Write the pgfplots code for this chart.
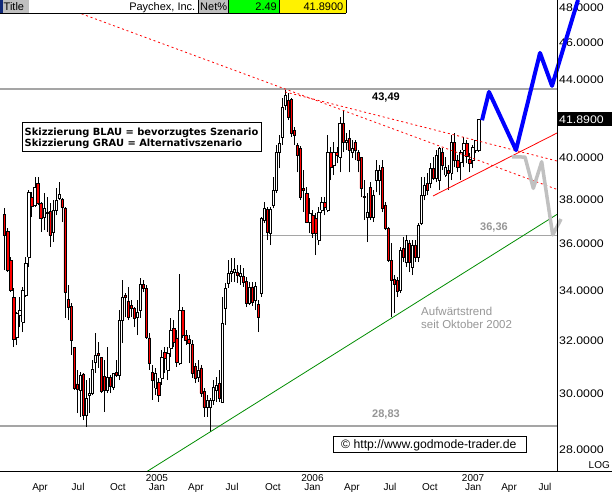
\documentclass[border=0pt]{standalone}
\usepackage{pgfplots}
\usepackage{pgfplotstable}
\pgfplotsset{compat=1.18}
\usepackage{fontspec}
\setmainfont{Liberation Sans}
\newfontfamily\tickfont{Liberation Sans}[FakeStretch=1.12]
\newfontfamily\legfont{DejaVu Sans}

\definecolor{hline}{RGB}{165,165,165}
\definecolor{alt}{RGB}{192,192,192}
\definecolor{note}{RGB}{150,150,150}
\definecolor{trend}{RGB}{0,140,0}
\definecolor{navy}{RGB}{16,40,120}
\definecolor{hdrgray}{RGB}{192,192,192}

% weekly candles: week index, open, high, low, close
\pgfplotstableread{
k O H L C
0 37.33 37.60 34.87 36.39
1 36.57 36.70 34.78 34.87
2 35.29 35.42 33.94 34.03
3 33.74 34.11 31.74 32.06
4 32.13 33.13 31.82 33.09
5 33.01 33.74 32.53 33.21
6 32.73 34.16 32.33 34.03
7 33.82 35.42 33.74 35.16
8 35.42 38.44 34.99 38.34
9 38.11 38.34 37.19 37.69
10 37.74 39.05 37.65 38.58
11 38.77 39.05 37.74 37.83
12 37.83 37.88 36.52 37.15
13 37.19 38.30 36.61 37.60
14 37.37 38.11 36.52 37.42
15 37.46 37.83 35.86 36.39
16 36.52 37.97 36.08 37.51
17 37.51 38.53 37.28 37.97
18 38.06 38.81 37.97 38.25
19 38.02 38.06 36.97 37.65
20 37.60 37.65 32.89 33.94
21 33.66 34.24 32.81 33.33
22 33.37 33.50 31.44 32.02
23 31.74 31.74 30.12 30.20
24 30.35 30.87 29.29 30.16
25 30.12 30.79 29.15 30.68
26 30.72 30.76 29.04 29.22
27 29.22 30.49 28.80 29.83
28 29.94 30.57 29.29 30.01
29 30.01 31.25 29.94 30.91
30 31.17 32.29 30.76 31.44
31 31.51 31.94 30.95 31.44
32 31.36 31.36 30.01 30.09
33 30.64 31.25 29.33 30.12
34 30.12 31.74 30.01 30.60
35 30.60 30.68 30.01 30.27
36 30.23 30.76 30.12 30.76
37 30.79 31.25 30.60 30.68
38 30.68 33.21 30.49 32.81
39 32.81 34.44 31.90 33.74
40 33.82 33.90 32.93 33.74
41 33.58 34.16 32.81 32.93
42 33.41 33.62 32.93 33.29
43 33.29 33.33 32.53 32.89
44 32.93 33.62 32.21 33.13
45 33.21 34.53 32.89 34.28
46 34.28 34.44 33.94 34.11
47 34.11 34.24 32.06 32.13
48 32.10 32.29 30.87 31.13
49 30.79 31.06 29.76 30.49
50 30.20 30.95 29.94 30.76
51 30.42 30.57 29.69 29.94
52 30.57 31.63 30.31 31.36
53 31.55 31.74 30.76 31.32
54 30.87 31.74 30.49 31.51
55 31.70 32.89 31.36 32.41
56 32.49 32.81 31.74 31.94
57 32.10 32.41 30.99 31.17
58 31.13 34.70 31.06 33.21
59 33.21 33.33 32.10 32.21
60 32.21 32.41 31.82 32.02
61 32.06 32.21 31.13 31.90
62 31.86 32.02 30.57 30.76
63 30.99 31.13 30.38 30.57
64 30.60 31.25 30.42 30.87
65 30.95 31.06 29.87 30.01
66 30.09 30.20 29.15 29.51
67 29.51 29.94 29.15 29.76
68 29.51 29.83 28.62 29.76
69 29.76 30.49 29.58 30.23
70 30.12 30.60 29.69 30.31
71 30.38 30.87 29.69 29.83
72 29.69 33.74 29.65 32.69
73 33.29 34.32 32.61 34.11
74 34.32 35.29 34.11 34.74
75 34.74 35.38 34.36 34.83
76 34.78 35.38 34.36 34.91
77 34.78 35.08 34.32 34.66
78 34.61 35.08 34.24 34.74
79 34.61 34.95 34.16 34.36
80 34.40 34.57 33.33 33.50
81 33.50 34.36 33.41 34.16
82 34.16 34.36 33.37 33.54
83 33.62 34.36 33.21 34.20
84 33.45 33.62 32.33 32.93
85 33.90 37.19 33.74 37.15
86 37.06 37.88 36.92 37.60
87 37.55 37.65 36.17 36.52
88 36.48 37.65 35.95 37.55
89 37.74 39.05 37.60 38.44
90 38.44 40.61 38.30 40.26
91 40.26 41.10 39.49 40.70
92 41.00 42.99 40.61 42.53
93 42.63 43.42 42.37 43.16
94 42.89 43.26 41.86 42.02
95 42.94 42.99 41.00 41.20
96 41.35 41.50 40.61 41.10
97 40.61 40.70 39.29 40.11
98 40.46 40.56 37.97 38.11
99 38.53 39.39 37.42 38.44
100 38.30 38.58 36.92 36.97
101 36.97 38.06 36.48 37.37
102 37.28 37.51 36.26 36.48
103 37.15 37.37 35.51 36.48
104 36.17 37.65 35.95 37.42
105 37.51 38.11 37.37 37.88
106 37.88 38.11 37.28 37.65
107 37.51 41.10 37.42 40.26
108 40.26 40.51 38.91 39.53
109 39.63 40.75 39.15 40.26
110 40.26 40.51 39.72 40.11
111 40.01 42.02 39.29 41.71
112 41.71 42.37 40.26 40.75
113 40.75 41.20 40.36 40.85
114 40.95 41.35 39.29 40.36
115 40.26 40.85 39.97 40.46
116 40.75 40.85 39.87 40.36
117 40.26 40.36 39.29 39.87
118 40.01 40.01 38.11 38.53
119 38.16 38.91 37.06 38.11
120 37.19 38.30 36.08 37.42
121 38.58 38.81 37.06 37.19
122 37.19 38.44 36.97 38.20
123 38.91 39.87 38.34 39.39
124 38.91 39.63 38.20 39.39
125 39.53 39.87 37.42 37.60
126 37.74 37.88 36.61 36.70
127 36.70 36.74 35.21 35.29
128 35.29 36.04 32.93 34.44
129 34.49 34.66 33.09 34.28
130 34.44 34.57 33.74 33.98
131 34.03 35.86 33.90 35.73
132 35.82 36.30 35.21 35.42
133 35.21 36.39 34.99 36.17
134 36.04 36.17 34.78 35.21
135 34.99 36.17 34.66 35.95
136 35.95 36.17 35.21 35.42
137 35.42 36.92 35.21 36.83
138 36.92 39.05 36.83 38.20
139 38.20 39.05 37.97 38.67
140 38.77 39.24 38.20 38.44
141 38.77 39.72 38.53 39.49
142 39.49 40.01 38.91 39.00
143 39.00 40.36 38.81 40.11
144 38.91 40.51 38.44 40.46
145 40.26 40.46 39.39 39.63
146 39.15 40.01 39.05 39.53
147 39.39 39.63 38.44 39.24
148 39.24 41.10 38.91 40.75
149 40.75 41.20 39.53 39.87
150 39.87 40.11 39.29 39.53
151 39.77 40.36 38.91 40.26
152 40.36 41.00 39.53 40.70
153 40.70 40.85 39.72 40.06
154 39.92 40.21 39.29 39.72
155 39.87 40.61 39.49 40.51
156 40.36 40.85 40.21 40.85
157 40.36 41.91 40.26 41.89
}\candles

\begin{document}
\begin{tikzpicture}[x=1bp,y=-1bp]
\path[use as bounding box] (0,0) rectangle (612,492);
\begin{axis}[
  at={(0bp,-471.5bp)}, anchor=south west,
  scale only axis, width=557bp, height=471.5bp,
  xmin=-1.556, xmax=182.88,
  ymode=log, ymin=27.275, ymax=48.47,
  clip=false,
  axis x line*=bottom, axis y line*=right,
  axis line style={draw=none},
  major tick length=0pt,
  xtick={11.7,24.3,37.5,50.4,63.3,75.3,88.8,101.9,115.0,127.6,140.8,155.1,167.0,178.9},
  xticklabels={Apr,Jul,Oct,Jan,Apr,Jul,Oct,Jan,Apr,Jul,Oct,Jan,Apr,Jul},
  xticklabel style={font=\fontsize{10bp}{12bp}\selectfont, anchor=base, inner sep=0pt, yshift=-19bp},
  extra x ticks={50.4,101.9,155.1},
  extra x tick labels={2005,2006,2007},
  extra x tick style={xticklabel style={yshift=9bp}},
  ytick={28,30,32,34,36,38,40,44,46,48},
  yticklabels={28.0000,30.0000,32.0000,34.0000,36.0000,38.0000,40.0000,44.0000,46.0000,48.0000},
  yticklabel style={font=\tickfont\fontsize{11bp}{13bp}\selectfont, anchor=west, inner sep=0pt, xshift=2bp},
]
% support / resistance levels
\addplot[hline, line width=1.5bp, forget plot] coordinates {(-1.556,43.49) (182.88,43.49)};
\addplot[hline, line width=1.5bp, forget plot] coordinates {(85.5,36.36) (182.88,36.36)};
\addplot[hline, line width=1.5bp, forget plot] coordinates {(-1.556,28.83) (182.88,28.83)};

% candles
\pgfplotsinvokeforeach{0,...,157}{
  \pgfplotstablegetelem{#1}{k}\of\candles \let\cndK\pgfplotsretval
  \pgfplotstablegetelem{#1}{O}\of\candles \let\cndO\pgfplotsretval
  \pgfplotstablegetelem{#1}{H}\of\candles \let\cndH\pgfplotsretval
  \pgfplotstablegetelem{#1}{L}\of\candles \let\cndL\pgfplotsretval
  \pgfplotstablegetelem{#1}{C}\of\candles \let\cndC\pgfplotsretval
  \pgfmathsetmacro\cndXa{\cndK-0.37}
  \pgfmathsetmacro\cndXb{\cndK+0.37}
  \edef\candlecmd{%
    \noexpand\addplot[black, line width=0.8bp, forget plot]
      coordinates {(\cndK,\cndL) (\cndK,\cndH)};
    \noexpand\addplot[draw=black, line width=0.65bp, forget plot,
      fill=\ifdim\cndC pt<\cndO pt red\else white\fi]
      coordinates {(\cndXa,\cndO) (\cndXb,\cndO) (\cndXb,\cndC) (\cndXa,\cndC) (\cndXa,\cndO)};
  }%
  \candlecmd
}

% trend lines
\addplot[trend, line width=0.8bp, forget plot] coordinates {(47.12,27.275) (182.88,37.32)};
\addplot[red, line width=0.8bp, forget plot] coordinates {(141.83,38.17) (182.88,41.21)};
\addplot[red, line width=0.8bp, dash pattern=on 2bp off 2.8bp, forget plot] coordinates {(92.81,43.33) (182.88,39.83)};
\addplot[red, line width=0.8bp, dash pattern=on 2bp off 2.8bp, forget plot] coordinates {(20.96,47.95) (182.88,38.48)};

% scenarios
\addplot[alt, line width=3.5bp, line join=round, forget plot] coordinates {
  (167.98,40.03) (172.28,40.02) (175.03,38.53) (177.81,39.80) (181.46,36.40) (184.2,37.11)};
\addplot[blue, line width=4bp, line join=round, forget plot] coordinates {
  (158.05,41.86) (160.36,43.33) (169.3,40.36) (177.25,45.44) (181.23,43.65) (189.83,48.47)};
\end{axis}

% frame lines
\draw[black, line width=1bp] (0,471.5) -- (612,471.5);
\draw[black, line width=1bp] (557,0) -- (557,471.5);

% last price marker
\fill[black] (557,112.5) rectangle (612,126.5);
\node[anchor=west, inner sep=0pt, text=white, font=\tickfont\fontsize{11bp}{13bp}\selectfont] at (559,119.5) {41.8900};
\node[anchor=base east, inner sep=0pt, font=\fontsize{10bp}{12bp}\selectfont] at (610,468.5) {LOG};

% header
\fill[navy] (0,0) rectangle (2.5,13);
\fill[hdrgray] (2.5,0) rectangle (29,13);
\fill[white] (29,0) rectangle (198,13);
\fill[hdrgray] (198,0) rectangle (228,13);
\fill[green] (228,0) rectangle (279,13);
\fill[yellow] (279,0) rectangle (346,13);
\draw[black, line width=0.8bp] (0,13) -- (346,13);
\draw[black, line width=0.8bp] (198,0) -- (198,13) (228,0) -- (228,13) (279,0) -- (279,13) (346,0) -- (346,13);
\begin{scope}[every node/.style={inner sep=0pt, font=\fontsize{11bp}{13bp}\selectfont}]
  \node[anchor=base west] at (3.5,10.5) {Title};
  \node[anchor=base east] at (195.5,10.5) {Paychex, Inc.};
  \node[anchor=base west] at (200,10.5) {Net\%};
  \node[anchor=base east] at (277,10.5) {2.49};
  \node[anchor=base east] at (343.5,10.5) {41.8900};
\end{scope}

% legend of the scenarios
\draw[black, line width=1bp, fill=white] (22.5,122.5) rectangle (261,152);
\begin{scope}[every node/.style={inner sep=0pt, anchor=base west, font=\legfont\bfseries\fontsize{9.9bp}{11bp}\selectfont}]
  \node at (24.5,136) {Skizzierung BLAU = bevorzugtes Szenario};
  \node at (24.5,147) {Skizzierung GRAU = Alternativszenario};
\end{scope}

% level labels
\node[anchor=base, inner sep=0pt, font=\bfseries\fontsize{11bp}{13bp}\selectfont] at (386,101) {43,49};
\node[anchor=base, inner sep=0pt, text=note, font=\bfseries\fontsize{11bp}{13bp}\selectfont] at (494,231) {36,36};
\node[anchor=base, inner sep=0pt, text=note, font=\bfseries\fontsize{11bp}{13bp}\selectfont] at (386,417) {28,83};
\node[anchor=base west, inner sep=0pt, text=note, font=\fontsize{11.5bp}{13bp}\selectfont] at (421,315) {Aufwärtstrend};
\node[anchor=base west, inner sep=0pt, text=note, font=\fontsize{11.5bp}{13bp}\selectfont] at (421,328.5) {seit Oktober 2002};

% source
\draw[black, line width=1bp, fill=white] (333.5,436.5) rectangle (526,452.5);
\node[anchor=base west, inner sep=0pt, font=\fontsize{12.2bp}{14bp}\selectfont] at (341,448.5) {© http://www.godmode-trader.de};
\end{tikzpicture}
\end{document}
